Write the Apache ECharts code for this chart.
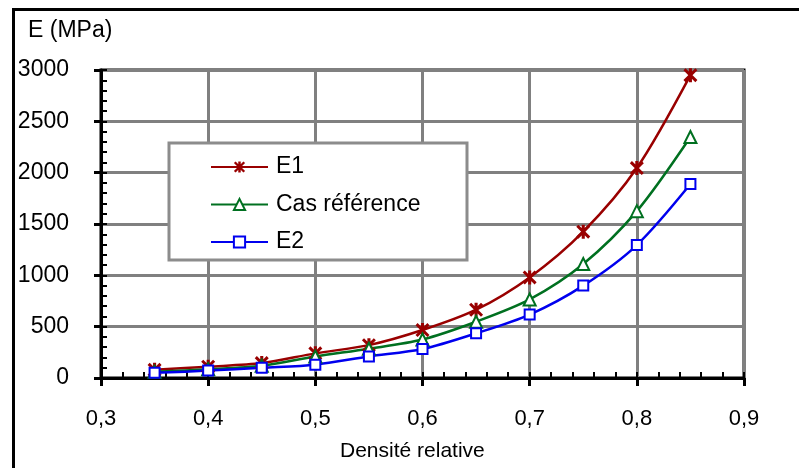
<!DOCTYPE html>
<html>
<head>
<meta charset="utf-8">
<script src="https://cdn.jsdelivr.net/npm/echarts@6/dist/echarts.min.js"></script>
<style>
html,body{margin:0;padding:0;background:#fff;}
#c{width:799px;height:468px;}
</style>
</head>
<body>
<div id="c"></div>
<script>
const densite = [0.35, 0.40, 0.45, 0.50, 0.55, 0.60, 0.65, 0.70, 0.75, 0.80, 0.85];
const e1 = [80, 110, 145, 240, 320, 467, 665, 980, 1425, 2045, 2950];
const casRef = [60, 85, 120, 210, 285, 375, 548, 765, 1110, 1625, 2347];
const e2 = [50, 72, 100, 130, 210, 282, 435, 618, 900, 1295, 1889];
const seriesNames = ['E1', 'Cas référence', 'E2'];
const xTitle = 'Densité relative';
const yTitle = 'E (MPa)';

const FONT = 'Liberation Sans, Arial, sans-serif';
const pairs = arr => densite.map((x, i) => [x, arr[i]]);
const star = 'path://M3.9 0 L6.1 0 L6.1 10 L3.9 10 Z M0 1.5 L1.5 0 L10 8.5 L8.5 10 Z M1.5 10 L0 8.5 L8.5 0 L10 1.5 Z';

const chart = echarts.init(document.getElementById('c'), null, {renderer: 'canvas'});
const fmt = v => v.toFixed(1).replace('.', ',');

chart.setOption({
  animation: false,
  backgroundColor: '#fff',
  textStyle: {fontFamily: FONT},
  grid: {left: 101, right: 55, top: 70, bottom: 90, show: true, borderColor: '#000', borderWidth: 3, backgroundColor: 'transparent'},
  xAxis: [{
    type: 'value', min: 0.3, max: 0.9, interval: 0.1, position: 'bottom',
    axisLine: {show: true, onZero: false, lineStyle: {color: '#000', width: 3}},
    axisTick: {show: true, inside: true, length: 6, lineStyle: {color: '#000', width: 2}},
    minorTick: {show: true, splitNumber: 5, length: 6, lineStyle: {color: '#000', width: 2}},
    splitLine: {show: true, lineStyle: {color: '#808080', width: 3}},
    axisLabel: {formatter: fmt, color: '#000', fontSize: 22, fontFamily: FONT, margin: 30}
  }, {
    type: 'value', min: 0.3, max: 0.9, interval: 0.1, position: 'bottom', gridIndex: 0,
    axisLine: {show: false}, axisLabel: {show: false}, splitLine: {show: false},
    axisTick: {show: true, inside: false, length: 8, lineStyle: {color: '#000', width: 3}}
  }],
  yAxis: [{
    type: 'value', min: 0, max: 3000, interval: 500, position: 'left',
    axisLine: {show: true, onZero: false, lineStyle: {color: '#000', width: 3}},
    axisTick: {show: true, inside: true, length: 6, lineStyle: {color: '#000', width: 2}},
    minorTick: {show: true, splitNumber: 5, length: 6, lineStyle: {color: '#000', width: 2}},
    splitLine: {show: true, lineStyle: {color: '#808080', width: 3}},
    axisLabel: {formatter: v => String(v), color: '#000', fontSize: 23, fontFamily: FONT, margin: 32}
  }, {
    type: 'value', min: 0, max: 3000, interval: 500, position: 'left',
    axisLine: {show: false}, axisLabel: {show: false}, splitLine: {show: false},
    axisTick: {show: true, inside: false, length: 7, lineStyle: {color: '#000', width: 3}}
  }],
  legend: {
    orient: 'vertical', left: 205, top: 149, z: 20,
    itemWidth: 57, itemHeight: 14, itemGap: 11.5,
    textStyle: {fontSize: 23, fontFamily: FONT, color: '#000', lineHeight: 26, padding: [0, 0, 0, 3]},
    data: seriesNames
  },
  graphic: [
    {type: 'rect', z: 10, shape: {x: 169, y: 143, width: 298, height: 117}, style: {fill: '#fff', stroke: '#8c8c8c', lineWidth: 3}},
    {type: 'rect', z: 100, shape: {x: 13.5, y: 9.5, width: 1000, height: 1000}, style: {fill: 'none', stroke: '#000', lineWidth: 3}},
    {type: 'text', z: 100, left: 28, top: 19, style: {text: yTitle, font: '23px ' + FONT, fill: '#000'}},
    {type: 'text', z: 100, left: 340, top: 441, style: {text: xTitle, font: '21px ' + FONT, fill: '#000'}}
  ],
  series: [
    {name: seriesNames[0], type: 'line', data: pairs(e1), smooth: 0.3,
     symbol: star, symbolSize: 14, showAllSymbol: true,
     lineStyle: {color: '#990000', width: 2.5}, itemStyle: {color: '#990000', borderWidth: 0}},
    {name: seriesNames[1], type: 'line', data: pairs(casRef), smooth: 0.3,
     symbol: 'emptyTriangle', symbolSize: 12,
     lineStyle: {color: '#007020', width: 2.5}, itemStyle: {color: '#007020', borderColor: '#007020', borderWidth: 3}},
    {name: seriesNames[2], type: 'line', data: pairs(e2), smooth: 0.3,
     symbol: 'emptyRect', symbolSize: 10,
     lineStyle: {color: '#0000ee', width: 2.5}, itemStyle: {color: '#0000ee', borderColor: '#0000ee', borderWidth: 2.5}}
  ]
});
</script>
</body>
</html>
